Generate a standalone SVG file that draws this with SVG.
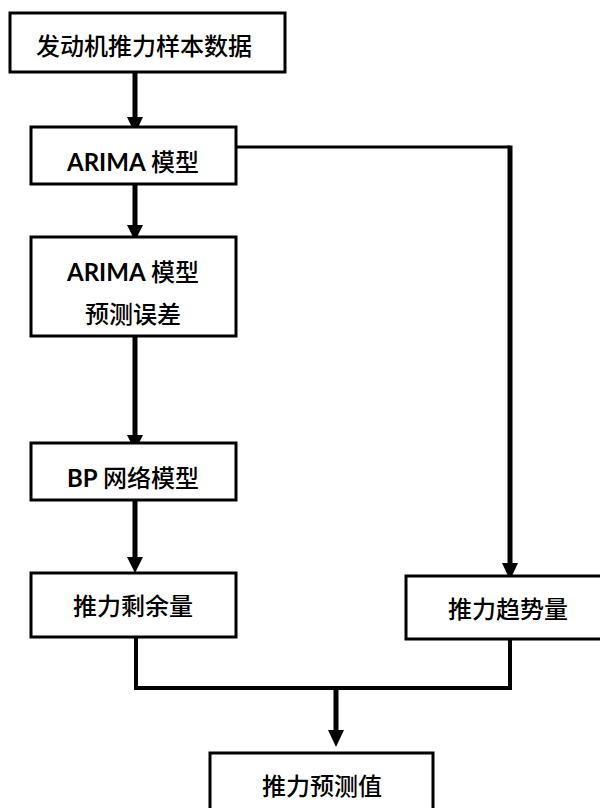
<svg xmlns="http://www.w3.org/2000/svg" width="600" height="808" viewBox="0 0 600 808">
<style>
.box{fill:#fff;stroke:#000;stroke-width:3}
.t{font-family:"Noto Sans CJK SC","Liberation Sans",sans-serif;font-size:24px;font-weight:500;fill:#000;text-anchor:middle}
.l{font-family:Lato,"Open Sans",sans-serif;font-weight:bold}
.c{fill:none;stroke:#000;stroke-width:5;stroke-linejoin:miter;stroke-linecap:butt}
.thin{stroke-width:3}
.ah{fill:#000}
</style>
<rect width="600" height="808" fill="#fff"/>
<g id="connectors">
<line class="c" x1="135" y1="72" x2="135" y2="120"/>
<polygon class="ah" points="127,117 143,117 135,134"/>
<line class="c" x1="135" y1="184" x2="135" y2="228"/>
<polygon class="ah" points="127,225 143,225 135,241"/>
<line class="c" x1="135" y1="336" x2="135" y2="438"/>
<polygon class="ah" points="127,435 143,435 135,451"/>
<line class="c" x1="135" y1="500" x2="135" y2="560"/>
<polygon class="ah" points="127,557 143,557 135,573"/>
<polyline class="c thin" points="236,147 510,147"/>
<line class="c" x1="510" y1="145.5" x2="510" y2="566"/>
<polygon class="ah" points="502,563 518,563 510,580"/>
<polyline class="c" style="stroke-width:4" points="136,637 136,688 510,688 510,639"/>
<line class="c" x1="336" y1="688" x2="336" y2="733"/>
<polygon class="ah" points="328,730 344,730 336,747"/>
</g>
<g id="n1"><rect class="box" x="10" y="13" width="275" height="59"/><text class="t" x="144" y="55">发动机推力样本数据</text></g>
<g id="n2"><rect class="box" x="31" y="127" width="205" height="57"/><text class="t" x="133" y="171"><tspan class="l">ARIMA</tspan> 模型</text></g>
<g id="n3"><rect class="box" x="31" y="237" width="205" height="99"/><text class="t" x="133" y="281"><tspan class="l">ARIMA</tspan> 模型</text><text class="t" x="133" y="323">预测误差</text></g>
<g id="n4"><rect class="box" x="31" y="443" width="205" height="57"/><text class="t" x="133" y="487"><tspan class="l">BP</tspan> 网络模型</text></g>
<g id="n5"><rect class="box" x="31" y="573" width="205" height="64"/><text class="t" x="133" y="615">推力剩余量</text></g>
<g id="n6"><rect class="box" x="406" y="576" width="206" height="63"/><text class="t" x="508" y="618">推力趋势量</text></g>
<g id="n7"><rect class="box" x="210" y="753" width="223" height="70"/><text class="t" x="322" y="795">推力预测值</text></g>
</svg>
